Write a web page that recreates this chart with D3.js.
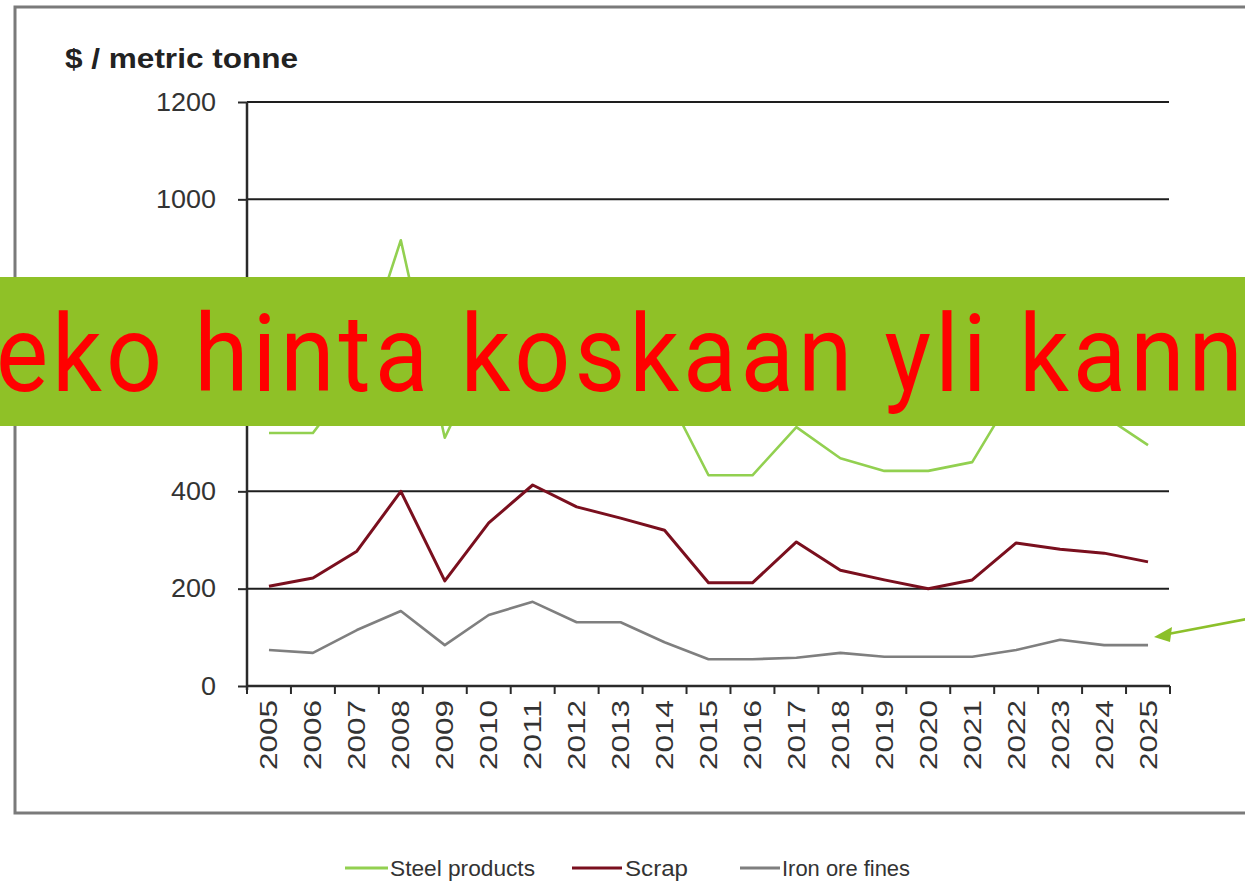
<!DOCTYPE html>
<html>
<head>
<meta charset="utf-8">
<script src="https://cdn.jsdelivr.net/npm/d3@7"></script>
<style>
  html, body { margin: 0; padding: 0; background: #fff; }
  svg { display: block; }
</style>
</head>
<body>
<svg id="chart" width="1245" height="882"></svg>
<script>
// ---- Data ----
const years = ["2005","2006","2007","2008","2009","2010","2011","2012","2013","2014","2015",
               "2016","2017","2018","2019","2020","2021","2022","2023","2024","2025"];
const steelProducts = [520, 520, 640, 916, 510, 700, 800, 720, 680, 610, 433,
                       433, 532, 468, 442, 442, 460, 610, 590, 555, 495];
const scrap = [205, 222, 277, 400, 216, 335, 413, 368, 345, 320, 212,
               212, 296, 238, 218, 200, 218, 294, 281, 273, 255];
const ironOreFines = [74, 68, 115, 154, 84, 146, 173, 131, 131, 90, 55,
                      55, 58, 68, 60, 60, 60, 74, 95, 84, 84];
const yTicks = [0, 200, 400, 600, 800, 1000, 1200];
const seriesNames = ["Steel products", "Scrap", "Iron ore fines"];
const seriesColors = ["#92d050", "#7a0f1e", "#7f7f7f"];
const yTitle = "$ / metric tonne";
const bannerText = "eko hinta koskaan yli kann";

// ---- Layout ----
const svg = d3.select("#chart");
const W = 1245, H = 882;
const plot = { left: 247, right: 1170, top: 102, bottom: 686 };

svg.append("rect").attr("width", W).attr("height", H).attr("fill", "#fff");

// outer frame
svg.append("rect")
  .attr("x", 15).attr("y", 7).attr("width", W + 20).attr("height", 806)
  .attr("fill", "none").attr("stroke", "#7a7a7a").attr("stroke-width", 3);

const x = d3.scaleBand().domain(years).range([plot.left, plot.right]);
const y = d3.scaleLinear().domain([0, 1200]).range([plot.bottom, plot.top]);

// gridlines
svg.append("g").selectAll("line")
  .data(yTicks.filter(d => d > 0))
  .join("line")
  .attr("x1", plot.left).attr("x2", 1169)
  .attr("y1", d => y(d)).attr("y2", d => y(d))
  .attr("stroke", "#1e1e1e").attr("stroke-width", 2);

// y axis
const yAxis = svg.append("g")
  .attr("transform", `translate(${plot.left},0)`)
  .call(d3.axisLeft(y).tickValues(yTicks).tickSize(9).tickPadding(22).tickFormat(d3.format("d")));
yAxis.select(".domain").attr("stroke", "#2a2a2a").attr("stroke-width", 2.5)
  .attr("d", `M0,${plot.top}V${plot.bottom + 4}`);
yAxis.selectAll(".tick line").attr("stroke", "#2a2a2a").attr("stroke-width", 2);
yAxis.selectAll(".tick text")
  .attr("font-family", "'Liberation Sans', Arial, sans-serif")
  .attr("font-size", 25).attr("fill", "#333")
  .attr("textLength", d => String(d).length * 15)
  .attr("lengthAdjust", "spacingAndGlyphs");

// x axis
const xAxis = svg.append("g")
  .attr("transform", `translate(0,${plot.bottom})`)
  .call(d3.axisBottom(x).tickSize(0).tickPadding(0));
xAxis.select(".domain").attr("stroke", "#2a2a2a").attr("stroke-width", 2.5)
  .attr("d", `M${plot.left},0H${plot.right}`);
// ticks at band boundaries
xAxis.append("g").selectAll("line")
  .data(d3.range(years.length + 1))
  .join("line")
  .attr("x1", i => plot.left + i * x.step()).attr("x2", i => plot.left + i * x.step())
  .attr("y1", 0).attr("y2", 8)
  .attr("stroke", "#2a2a2a").attr("stroke-width", 2);
xAxis.selectAll(".tick text")
  .attr("font-family", "'Liberation Sans', Arial, sans-serif")
  .attr("font-size", 24).attr("fill", "#333")
  .attr("text-anchor", "end")
  .attr("dy", null)
  .attr("transform", "translate(0,14) rotate(-90)")
  .attr("x", 0).attr("y", 0)
  .attr("dominant-baseline", "central")
  .attr("textLength", 70)
  .attr("lengthAdjust", "spacingAndGlyphs");

// title
svg.append("text")
  .attr("x", 65).attr("y", 68)
  .attr("font-family", "'Liberation Sans', Arial, sans-serif")
  .attr("font-weight", "bold").attr("font-size", 27).attr("fill", "#222")
  .attr("textLength", 233).attr("lengthAdjust", "spacingAndGlyphs")
  .text(yTitle);

// lines
const line = d3.line()
  .x((d, i) => x(years[i]) + x.bandwidth() / 2)
  .y(d => y(d));
const allSeries = [steelProducts, scrap, ironOreFines];
svg.append("g").selectAll("path")
  .data(allSeries)
  .join("path")
  .attr("d", d => line(d))
  .attr("fill", "none")
  .attr("stroke", (d, i) => seriesColors[i])
  .attr("stroke-width", (d, i) => i === 1 ? 3 : 2.6)
  .attr("stroke-linejoin", "round");

// legend
const legendItems = [
  { x1: 345, x2: 388, tx: 390, tl: 145 },
  { x1: 572, x2: 622, tx: 625, tl: 63 },
  { x1: 740, x2: 780, tx: 782, tl: 128 }
];
const lg = svg.append("g");
legendItems.forEach((it, i) => {
  lg.append("line").attr("x1", it.x1).attr("x2", it.x2).attr("y1", 868).attr("y2", 868)
    .attr("stroke", seriesColors[i]).attr("stroke-width", 3);
  lg.append("text").attr("x", it.tx).attr("y", 868)
    .attr("dominant-baseline", "central")
    .attr("font-family", "'Liberation Sans', Arial, sans-serif")
    .attr("font-size", 22).attr("fill", "#333")
    .attr("textLength", it.tl).attr("lengthAdjust", "spacingAndGlyphs")
    .text(seriesNames[i]);
});

// banner overlay
svg.append("rect")
  .attr("x", 0).attr("y", 277).attr("width", W).attr("height", 149)
  .attr("fill", "#8fc127");
const sx = 0.92;
svg.append("text")
  .attr("transform", `scale(${sx},1)`)
  .attr("x", -4 / sx).attr("y", 391)
  .attr("font-family", "Roboto, 'Noto Sans', sans-serif")
  .attr("font-weight", 400)
  .attr("font-size", 107).attr("fill", "#ff0000")
  .attr("textLength", 1247 / sx).attr("lengthAdjust", "spacing")
  .text(bannerText);

// arrow
const arrowColor = "#8cc02a";
svg.append("line")
  .attr("x1", 1247).attr("y1", 619).attr("x2", 1168).attr("y2", 634)
  .attr("stroke", arrowColor).attr("stroke-width", 2.5);
svg.append("path")
  .attr("d", "M1154,637 L1172,627 L1170,642 Z")
  .attr("fill", arrowColor);
</script>
</body>
</html>
